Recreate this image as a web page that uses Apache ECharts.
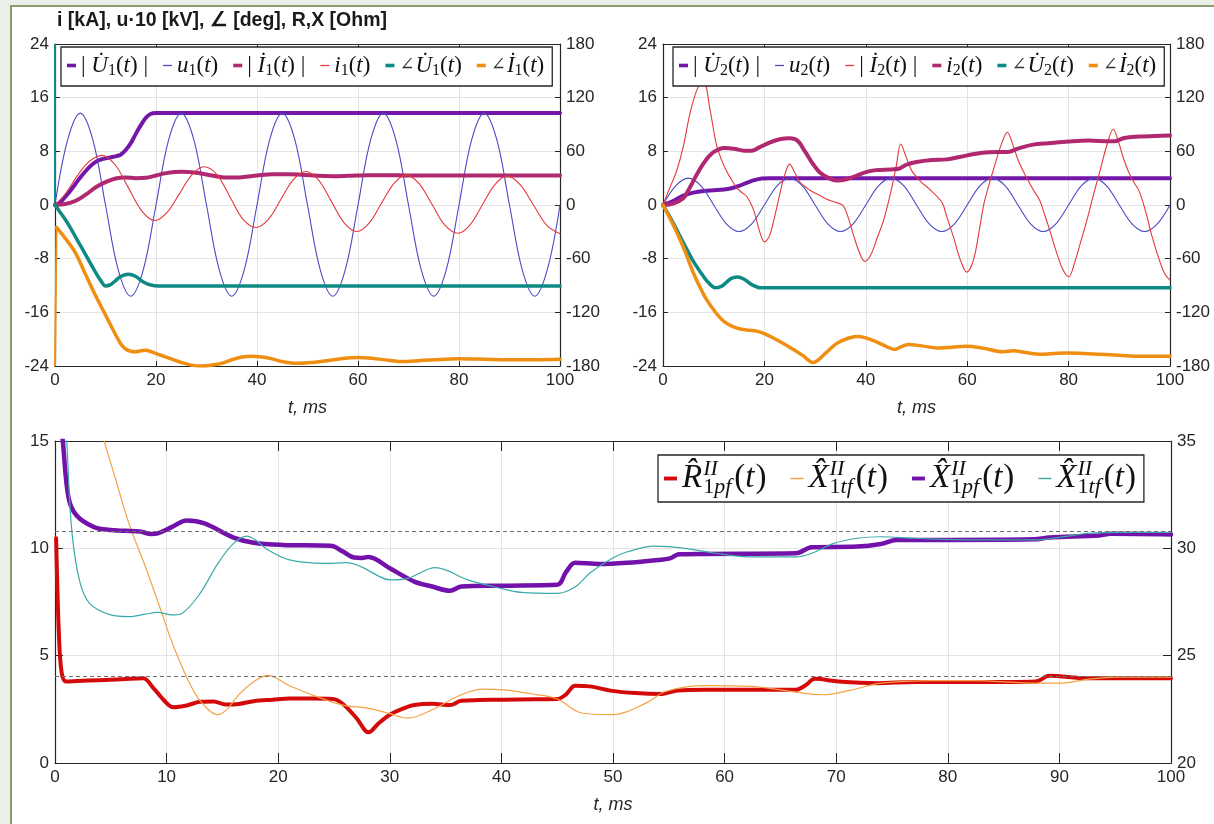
<!DOCTYPE html>
<html><head><meta charset="utf-8">
<script src="https://cdn.jsdelivr.net/npm/echarts@6.0.0/dist/echarts.min.js"></script>
<style>
html,body{margin:0;padding:0;background:#eceee9;width:1214px;height:824px;overflow:hidden;}
#frame{position:absolute;left:10px;top:5px;width:1204px;height:819px;background:#fff;border-left:2px solid #8c9c70;border-top:2px solid #8c9c70;box-sizing:border-box;}
#chart{position:absolute;left:0;top:0;width:1214px;height:824px;}
</style></head><body><div id="frame"></div><div id="chart"></div>
<script>
// ---------- axis ticks ----------
const tTicksTop = [0, 20, 40, 60, 80, 100];
const tTicksBottom = [0, 10, 20, 30, 40, 50, 60, 70, 80, 90, 100];
const leftTicksTop = [-24, -16, -8, 0, 8, 16, 24];
const rightTicksTop = [-180, -120, -60, 0, 60, 120, 180];
const leftTicksBottom = [0, 5, 10, 15];
const rightTicksBottom = [20, 25, 30, 35];

// ---------- panel 1 (top-left) ----------
const absU1_t = [0,1,2,3,4,5,6,7,8,9,10,11,12,13,14,15,16,17,18,19,20,25,100];
const absU1_v = [0,0.4,1.2,2.1,3.1,4.1,5.0,5.8,6.4,6.75,6.95,7.1,7.25,7.5,8.2,9.2,10.6,11.9,13.0,13.6,13.7,13.7,13.7];
const u1_t = [0,2.5,5,7.5,10,12.5,15,17.5,20,22.5,25,27.5,30,32.5,35,37.5,40,42.5,45,47.5,50,52.5,55,57.5,60,62.5,65,67.5,70,72.5,75,77.5,80,82.5,85,87.5,90,92.5,95,97.5,100];
const u1_v = [0,9.7,13.7,9.7,0,-9.6,-13.6,-9.6, 0,9.7,13.7,9.7,0,-9.6,-13.6,-9.6, 0,9.7,13.7,9.7,0,-9.6,-13.6,-9.6, 0,9.7,13.7,9.7,0,-9.6,-13.6,-9.6, 0,9.7,13.7,9.7,0,-9.6,-13.6,-9.6, 0];
const absI1_t = [0,2,4,6,8,10,12,14,16,18,20,22,25,28,31,34,37,40,43,46,49,52,55,58,62,66,70,100];
const absI1_v = [0,0.15,0.6,1.5,2.6,3.4,3.95,4.1,4.0,4.05,4.4,4.75,4.95,4.8,4.4,4.1,4.15,4.4,4.6,4.6,4.5,4.35,4.3,4.35,4.45,4.45,4.4,4.4];
const i1_t = [0,2,4,6,7.7,9.3,11.9,14.55,17.2,19.8,22.2,24.65,27.1,29.5,32.1,34.65,37.2,39.8,42.3,44.75,47.2,49.7,52.2,54.75,57.3,59.8,62.2,64.65,67.1,69.5,72.1,74.65,77.2,79.8,82.2,84.65,87.1,89.5,92.1,94.75,97.4,100];
const i1_v = [0,1.6,3.9,5.9,7.0,7.4,6.0,2.55,-0.9,-2.3,-1.1,1.7,4.5,5.7,4.5,1.2,-2.1,-3.35,-2.1,0.85,3.8,5.0,3.7,0.5,-2.7,-3.95,-2.7,0.25,3.2,4.45,3.2,0.1,-3.0,-4.2,-2.95,0.05,3.05,4.3,3.05,0,-3.05,-4.3];
const angU1_t = [0,1,2,3,4,5,6,7,8,9,10,11,12,13,14.5,16,17.5,19,20.5,30,100];
const angU1_v = [0,-8,-16,-25,-35,-45,-55,-65,-75,-84,-90.5,-89,-84.5,-80,-77.5,-80,-86,-89.5,-90.5,-90.5,-90.5];
const angI1_t = [0.3,2,4,6,8,10,12,13,14,15,16,17,18,19,21,23,25,27,29,31,33,35,37,39,41,43,45,48,51,54,57,60,63,66,69,72,75,80,85,90,95,100];
const angI1_v = [-25,-37,-53,-77,-101,-123,-145,-155,-161,-163.5,-164,-163,-162.5,-164,-168,-172,-176,-179,-180,-179,-177,-173,-170,-169,-170,-172,-175,-177,-176,-174,-171.5,-170.5,-171.5,-173.5,-175,-174,-173,-172,-172.5,-173,-173,-172.5];
const angU1_jump = [[0, 180], [0, 0]];
const angI1_jump = [[0, -180], [0.3, -25]];

// ---------- panel 2 (top-right) ----------
const absU2_t = [0,2,4,6,8,10,12,13.5,15,16.5,18,19.5,21,30,100];
const absU2_v = [0,0.6,1.4,1.85,2.1,2.2,2.3,2.5,2.85,3.3,3.7,3.95,4.0,4.0,4.0];
const u2_t = u1_t;
const u2_v = [0,2.85,4.0,2.85,0,-2.8,-3.95,-2.8, 0,2.85,4.0,2.85,0,-2.8,-3.95,-2.8, 0,2.85,4.0,2.85,0,-2.8,-3.95,-2.8, 0,2.85,4.0,2.85,0,-2.8,-3.95,-2.8, 0,2.85,4.0,2.85,0,-2.8,-3.95,-2.8, 0];
const absI2_t = [0,1.3,2.7,4,5.3,6.7,7.95,9.3,10.5,11.5,12.5,13.5,14.5,15.5,16.6,17.9,19,20,21,22,23,24,25,26,27,29,30.5,32.2,34,35.5,36.5,37.5,38.7,39.8,41,42.2,43.5,44.8,46,46.9,47.8,49,50.7,52.5,55,56,57.3,58.7,59.9,61.2,62.4,63.3,64.6,65.9,67,67.9,69,70.2,71.7,73,74.3,75.3,76.3,77.5,78.8,80,81.3,82.5,83.6,84.9,86.2,87.5,88.8,89.8,90.8,91.8,92.7,93.9,95.2,96.5,97.8,99,100];
const absI2_v = [0,2.5,5.1,8.7,13.6,17.2,18.6,14.1,9.1,6.8,5.1,3.8,2.6,1.9,1.2,-0.8,-3.8,-5.5,-4.6,-1.8,1.5,4.5,6.1,4.8,3.4,2.2,1.6,0.9,0.4,-0.1,-1.8,-4.3,-7.0,-8.4,-7.4,-5.0,-2.3,1.5,5.8,9.1,7.5,5.2,3.6,2.4,0.4,-1.8,-4.8,-8.3,-10.0,-8.3,-3.7,0.2,3.8,7.1,9.6,10.85,9.0,6.4,4.1,2.3,0.7,-1.5,-3.8,-6.8,-9.5,-10.7,-8.3,-5.2,-2.3,1.5,5.1,8.8,11.3,9.5,7.0,5.0,3.6,2.1,-1.0,-4.8,-8.0,-10.3,-11.2];
const i2_t = [0,2,4,5,6,7,8,9,10,11,12,14,16,17.5,19,21,23,25,26.5,28,29.5,31,33,34.5,36,38,40,42,45,46.5,48,50,53,56,60,63,66,68,70,73,76,80,84,88,89,91,94,97,100];
const i2_v = [0,0.2,1.0,2.2,3.6,5.0,6.2,7.2,7.9,8.3,8.5,8.4,8.1,8.1,8.6,9.3,9.8,9.95,9.6,8.0,6.2,4.8,3.9,3.65,3.8,4.3,4.9,5.2,5.3,5.4,6.0,6.4,6.7,6.8,7.4,7.8,7.9,7.9,8.4,9.0,9.2,9.45,9.6,9.5,9.5,10.0,10.2,10.3,10.35];
const angU2_t = [0,2,4,6,8,9,10.3,11.5,12.5,13.5,14.7,16,17.5,19.2,21,30,100];
const angU2_v = [0,-20,-42,-63,-80,-87,-92.5,-91,-86.5,-82,-80.5,-83,-89,-92.5,-92.5,-92.5,-92.5];
const angI2_t = [0,2,4,6,7.3,8.5,10.5,12,13.8,15.5,17.1,18.5,20.1,22.5,25,27.5,29.6,32,34.2,36.5,38.2,40,42.1,44,45.7,46.8,48.4,51,54.6,57,59.9,63,67.1,69.1,71.5,74.4,77,79.6,83,86.2,90,94.1,100];
const angI2_v = [0,-22,-47,-76,-92,-105,-121,-130,-136,-139,-140,-141,-144,-151,-159,-168,-176,-166,-155,-149,-147,-148.5,-153,-158,-161.5,-159,-156,-157.5,-160,-159,-158,-160,-164,-163,-165,-167,-166,-165.5,-166,-167,-168,-169,-169];

// ---------- panel 3 (bottom) ----------
const R1pf_t = [0.1,0.35,0.6,1.0,2,4,6,7.9,8.8,9.8,10.6,11.8,13,14.2,15.3,16.5,17.8,19.5,21,23,24.9,25.8,27,28.1,29,30,31,32.2,33.8,35.4,36.4,38,40.2,43,45,45.8,46.6,47.9,49.9,52,54.4,55.8,58.2,62,66.4,67.2,68.1,70.2,73.6,77.1,82.2,87.9,89.1,92.5,96,100];
const R1pf_v = [10.47,6,4.2,3.8,3.82,3.86,3.9,3.95,3.5,2.9,2.6,2.68,2.85,2.87,2.72,2.75,2.88,2.95,3.0,3.0,2.98,2.75,2.1,1.43,1.85,2.25,2.5,2.7,2.76,2.7,2.9,2.93,2.95,2.97,2.98,3.2,3.6,3.57,3.36,3.26,3.22,3.38,3.41,3.41,3.41,3.6,3.92,3.8,3.72,3.77,3.77,3.8,4.06,3.95,3.95,3.95];
const X1tfA_t = [3.5,4.4,5.5,6.6,8.2,9.5,10.5,11.8,13,14.6,15.5,16.5,18,19.1,21,24.2,26,28,30,31.6,33.8,36.4,38.3,40.2,43,45,47.2,49.9,53,54.7,58.2,62.3,66.4,68.8,71.2,74,78.8,82.2,87.9,90.1,92.5,95.3,100];
const X1tfA_v = [16.6,15,13.1,11.2,9.0,7.1,5.6,4.0,2.9,2.25,2.55,3.2,3.85,4.08,3.6,2.95,2.67,2.56,2.3,2.09,2.48,3.18,3.44,3.41,3.2,2.98,2.33,2.25,2.8,3.33,3.6,3.57,3.3,3.18,3.38,3.72,3.84,3.84,3.72,3.72,3.9,4.0,4.0];
const X1pf_t = [0.3,0.7,1.2,1.9,3.45,5,7.6,8.6,9.2,10.5,11.8,13.4,16,17.8,20.4,24.7,25.8,26.8,27.5,28.1,30,32.2,33.8,35.4,36.4,40.2,45,45.8,46.6,48.8,51.3,54,55.1,55.9,58.2,66.4,67.8,71.9,74,75.4,78.8,87.7,89.1,93.6,94.6,100];
const X1pf_v = [17,15,12.4,11.55,11.0,10.85,10.78,10.67,10.7,11.0,11.3,11.16,10.5,10.26,10.16,10.12,9.85,9.57,9.55,9.6,9.07,8.45,8.22,8.02,8.22,8.26,8.3,8.9,9.33,9.27,9.33,9.46,9.53,9.72,9.74,9.77,10.05,10.08,10.2,10.39,10.39,10.42,10.5,10.6,10.68,10.65];
const X1tfB_t = [0.8,1.05,1.5,2.2,3.1,5,6.6,8,9.2,10.5,11.4,13,14.6,16,17.2,19.1,21,24.2,26.1,27.4,30.1,31.6,34.1,37,39.9,41.8,45,46.6,47.9,49.9,51.3,53.7,56.5,59.2,62.6,66.4,67.8,69.8,71.9,74,77,82.2,87.7,90.8,92.5,96,100];
const X1tfB_v = [17,15,10.85,8.5,7.44,6.9,6.82,6.92,7.02,6.9,6.98,7.9,9.3,10.23,10.57,9.92,9.46,9.3,9.33,9.15,8.53,8.6,9.1,8.53,8.14,7.95,7.9,8.2,8.84,9.53,9.84,10.1,10.0,9.77,9.6,9.6,9.77,10.23,10.47,10.54,10.47,10.39,10.39,10.57,10.7,10.74,10.74];
const refLevels = [10.78, 4.03];

// ---------- colours ----------
const C = {
  purple: '#7416a8', blue: '#4a4ac6', magenta: '#b0286f', red: '#e5383b',
  teal: '#0e8a85', orange: '#f08e12',
  rRed: '#d40a0a', xOrange: '#f5a244', xPurple: '#7212aa', xTeal: '#3ba9a9'
};
const INK = '#262626';

function zip(ts, vs) { return ts.map((t, i) => [t, vs[i]]); }
function line(name, ts, vs, color, width, xi, yi) {
  return { name, type: 'line', data: zip(ts, vs), xAxisIndex: xi, yAxisIndex: yi,
    showSymbol: false, symbol: 'none', smooth: 0.35, clip: true,
    lineStyle: { color, width, cap: 'round', join: 'round' }, itemStyle: { color },
    emphasis: { disabled: true }, silent: true };
}
function jump(pts, color, width, xi, yi) {
  return { type: 'line', data: pts, xAxisIndex: xi, yAxisIndex: yi, showSymbol: false, symbol: 'none',
    lineStyle: { color, width }, silent: true, clip: true, emphasis: { disabled: true } };
}

const grids = [
  { left: 55, top: 44, width: 505, height: 322 },
  { left: 663, top: 44, width: 507, height: 322 },
  { left: 55, top: 441, width: 1116, height: 322 }
];
const TICKFONT = 17;
function xAx(g, ticks, top, tickLen) {
  return { gridIndex: g, type: 'value', min: ticks[0], max: ticks[ticks.length - 1],
    interval: ticks[1] - ticks[0], position: top ? 'top' : 'bottom',
    axisLine: { show: true, onZero: false, lineStyle: { color: INK, width: 1.2 } },
    axisTick: { show: true, inside: true, length: tickLen, lineStyle: { color: INK } },
    axisLabel: { show: !top, color: INK, fontSize: TICKFONT, fontFamily: 'Liberation Sans', margin: 6 },
    splitLine: { show: !top, lineStyle: { color: '#e4e4e4', width: 1 } },
    name: top ? '' : 't, ms', nameLocation: 'middle', nameGap: 33,
    nameTextStyle: { fontStyle: 'italic', fontSize: 18, color: INK, fontFamily: 'Liberation Sans' } };
}
function yAx(g, ticks, right, tickLen) {
  return { gridIndex: g, type: 'value', min: ticks[0], max: ticks[ticks.length - 1],
    interval: ticks[1] - ticks[0], position: right ? 'right' : 'left',
    axisLine: { show: true, onZero: false, lineStyle: { color: INK, width: 1.2 } },
    axisTick: { show: true, inside: true, length: tickLen, lineStyle: { color: INK } },
    axisLabel: { color: INK, fontSize: TICKFONT, fontFamily: 'Liberation Sans', margin: 6 },
    splitLine: { show: !right, lineStyle: { color: '#e4e4e4', width: 1 } } };
}

const DOT = '\u0307', HAT = '\u0302';
const labels = {
  absU1: '{m|| }{mi|U' + DOT + '}{sb|1}{m|(}{mi|t}{m|) |}',
  u1: '{mi|u}{sb|1}{m|(}{mi|t}{m|)}',
  absI1: '{m|| }{mi|I' + DOT + '}{sb|1}{m|(}{mi|t}{m|) |}',
  i1: '{mi|i}{sb|1}{m|(}{mi|t}{m|)}',
  angU1: '{ang|\u2220}{mi|U' + DOT + '}{sb|1}{m|(}{mi|t}{m|)}',
  angI1: '{ang|\u2220}{mi|I' + DOT + '}{sb|1}{m|(}{mi|t}{m|)}',
  absU2: '{m|| }{mi|U' + DOT + '}{sb|2}{m|(}{mi|t}{m|) |}',
  u2: '{mi|u}{sb|2}{m|(}{mi|t}{m|)}',
  absI2: '{m|| }{mi|I' + DOT + '}{sb|2}{m|(}{mi|t}{m|) |}',
  i2: '{mi|i}{sb|2}{m|(}{mi|t}{m|)}',
  angU2: '{ang|\u2220}{mi|U' + DOT + '}{sb|2}{m|(}{mi|t}{m|)}',
  angI2: '{ang|\u2220}{mi|I' + DOT + '}{sb|2}{m|(}{mi|t}{m|)}',
  R1pf: '{mi|R' + HAT + '}{sp|II}{sb|1}{sbi|pf}{m|(}{mi|t}{m|)}',
  X1tfA: '{mi|X' + HAT + '}{sp|II}{sb|1}{sbi|tf}{m|(}{mi|t}{m|)}',
  X1pf: '{mi|X' + HAT + '}{sp|II}{sb|1}{sbi|pf}{m|(}{mi|t}{m|)}',
  X1tfB: '{mi|X' + HAT + '}{sp|II}{sb|1}{sbi|tf}{m|(}{mi|t}{m|)}'
};
const SERIF = 'Liberation Serif';
const richTop = {
  m: { fontFamily: SERIF, fontSize: 23, lineHeight: 27, color: '#111' },
  mi: { fontFamily: SERIF, fontSize: 23, lineHeight: 27, color: '#111', fontStyle: 'italic' },
  ang: { fontFamily: 'DejaVu Serif', fontSize: 18, lineHeight: 27, color: '#333', fontStyle: 'italic', padding: [0, 1, 0, 0] },
  sb: { fontFamily: SERIF, fontSize: 16, lineHeight: 15, color: '#111', verticalAlign: 'bottom' }
};
const richBot = {
  m: { fontFamily: SERIF, fontSize: 33, lineHeight: 40, color: '#111' },
  mi: { fontFamily: SERIF, fontSize: 33, lineHeight: 40, color: '#111', fontStyle: 'italic', padding: [0, 1, 0, 0] },
  sp: { fontFamily: SERIF, fontSize: 22, lineHeight: 22, color: '#111', fontStyle: 'italic', verticalAlign: 'top', width: 0 },
  sb: { fontFamily: SERIF, fontSize: 22, lineHeight: 22, color: '#111', verticalAlign: 'bottom' },
  sbi: { fontFamily: SERIF, fontSize: 22, lineHeight: 22, color: '#111', fontStyle: 'italic', verticalAlign: 'bottom', padding: [0, 3, 0, 0] }
};
const THICK = 'path://M0,0L0,0M0,3h10v4h-10zM10,10L10,10';
const THIN = 'path://M0,0L0,0M0,4.3h10v1.4h-10zM10,10L10,10';
const THICK_B = 'path://M0,0L0,0M0,3.5h10v3h-10zM10,10L10,10';
const THIN_B = 'path://M0,0L0,0M0,4.45h10v1.1h-10zM10,10L10,10';
function legend(list, left, top, rich, gap, pad, size, icons) {
  return { data: list.map(([name, color, thick]) => ({ name, icon: thick ? icons[0] : icons[1], itemStyle: { color, borderWidth: 0 } })),
    left, top, orient: 'horizontal', itemGap: gap, itemWidth: size, itemHeight: size,
    padding: pad, borderColor: INK, borderWidth: 1.3, backgroundColor: '#fff', borderRadius: 0,
    selectedMode: false, itemStyle: { borderWidth: 0 },
    formatter: n => labels[n], textStyle: { rich, color: '#111' } };
}

const option = {
  animation: false,
  backgroundColor: 'transparent',
  textStyle: { fontFamily: 'Liberation Sans' },
  title: { text: 'i [kA], u\u00b710 [kV], \u2220 [deg], R,X [Ohm]', left: 57, top: 11, padding: 0,
    textStyle: { fontSize: 19.5, fontWeight: 'bold', color: '#1a1a1a', fontFamily: 'Liberation Sans' } },
  grid: grids,
  xAxis: [xAx(0, tTicksTop, false, 5), xAx(0, tTicksTop, true, 5), xAx(1, tTicksTop, false, 5), xAx(1, tTicksTop, true, 5),
          xAx(2, tTicksBottom, false, 10), xAx(2, tTicksBottom, true, 10)],
  yAxis: [yAx(0, leftTicksTop, false, 5), yAx(0, rightTicksTop, true, 5), yAx(1, leftTicksTop, false, 5), yAx(1, rightTicksTop, true, 5),
          yAx(2, leftTicksBottom, false, 8), yAx(2, rightTicksBottom, true, 8)],
  legend: [
    legend([['absU1', C.purple, 1], ['u1', C.blue, 0], ['absI1', C.magenta, 1], ['i1', C.red, 0], ['angU1', C.teal, 1], ['angI1', C.orange, 1]], 61, 47, richTop, 15, [7, 8, 7, 6], 9, [THICK, THIN]),
    legend([['absU2', C.purple, 1], ['u2', C.blue, 0], ['absI2', C.red, 0], ['i2', C.magenta, 1], ['angU2', C.teal, 1], ['angI2', C.orange, 1]], 673, 47, richTop, 15, [7, 8, 7, 6], 9, [THICK, THIN]),
    legend([['R1pf', C.rRed, 1], ['X1tfA', C.xOrange, 0], ['X1pf', C.xPurple, 1], ['X1tfB', C.xTeal, 0]], 658, 455, richBot, 24, [3.5, 8, 3.5, 6], 13, [THICK_B, THIN_B])
  ],
  series: [
    jump(angU1_jump, C.teal, 2, 0, 1),
    jump(angI1_jump, C.orange, 2, 0, 1),
    line('absU1', absU1_t, absU1_v, C.purple, 4, 0, 0),
    line('u1', u1_t, u1_v, C.blue, 1.1, 0, 0),
    line('absI1', absI1_t, absI1_v, C.magenta, 4, 0, 0),
    line('i1', i1_t, i1_v, C.red, 1.1, 0, 0),
    line('angU1', angU1_t, angU1_v, C.teal, 3.5, 0, 1),
    line('angI1', angI1_t, angI1_v, C.orange, 3.5, 0, 1),

    line('absU2', absU2_t, absU2_v, C.purple, 4, 2, 2),
    line('u2', u2_t, u2_v, C.blue, 1.1, 2, 2),
    line('absI2', absI2_t, absI2_v, C.red, 1.1, 2, 2),
    line('i2', i2_t, i2_v, C.magenta, 4, 2, 2),
    line('angU2', angU2_t, angU2_v, C.teal, 3.5, 2, 3),
    line('angI2', angI2_t, angI2_v, C.orange, 3.5, 2, 3),

    Object.assign(line('R1pf', R1pf_t, R1pf_v, C.rRed, 4, 4, 4), {
      markLine: { symbol: 'none', silent: true, label: { show: false },
        lineStyle: { type: [4, 3], color: '#707070', width: 1 },
        data: refLevels.map(v => ({ yAxis: v })) } }),
    line('X1tfA', X1tfA_t, X1tfA_v, C.xOrange, 1.2, 4, 4),
    line('X1pf', X1pf_t, X1pf_v, C.xPurple, 4.5, 4, 4),
    line('X1tfB', X1tfB_t, X1tfB_v, C.xTeal, 1.2, 4, 4)
  ]
};
const chart = echarts.init(document.getElementById('chart'), null, { renderer: 'canvas' });
chart.setOption(option);
</script></body></html>
